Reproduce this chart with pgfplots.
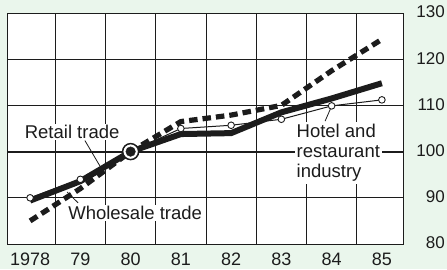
\documentclass[border=0pt]{standalone}
\usepackage{fontspec}
\setmainfont{Liberation Sans}
\usepackage{pgfplots}
\pgfplotsset{compat=1.18}
\definecolor{bg}{RGB}{234,246,236}
\definecolor{ink}{RGB}{28,28,28}
\begin{document}
\begin{tikzpicture}[x=1pt,y=1pt]
\path[use as bounding box, fill=bg] (0,0) rectangle (447,269);
\begin{axis}[
  at={(7pt,25pt)}, anchor=south west,
  scale only axis, width=397pt, height=231pt,
  xmin=-0.46, xmax=7.44, ymin=80, ymax=130,
  xtick={0,...,7}, xticklabels={1978,79,80,81,82,83,84,85},
  ytick={80,90,...,130},
  yticklabel pos=right,
  ymajorgrids,
  extra x ticks={0.5,1.5,2.5,3.5,4.5,5.5,6.5},
  extra x tick labels={},
  extra x tick style={grid=major},
  major tick length=0pt,
  grid style={ink, line width=0.8pt},
  axis line style={ink, line width=1pt},
  axis background/.style={fill=white},
  tick label style={text=ink},
  /pgf/number format/assume math mode=true,
  yticklabel style={font=\fontsize{17}{20}\selectfont, anchor=east, inner sep=0pt, xshift=41pt, yshift=1pt},
  xticklabel style={font=\fontsize{18}{20}\selectfont, anchor=north, inner sep=0pt, yshift=-9pt},
  clip=false,
]
% baseline at 100
\draw[ink, line width=1.8pt] (axis cs:-0.46,100) -- (axis cs:7.44,100);
% Wholesale trade
\addplot[ink, line width=5.2pt, dash pattern=on 8.5pt off 5pt, no marks] coordinates {
(0,85.0) (1,92.0) (2,100) (3,106.5) (4,107.9) (5,110.0) (6,117.5) (7,124.3)};
% Retail trade
\addplot[ink, line width=6pt, no marks, line join=round] coordinates {
(0,89.4) (1,93.6) (2,100) (3,103.8) (4,104.0) (5,108.5) (6,111.5) (7,114.8)};
% Hotel and restaurant industry
\addplot[ink, line width=1pt, mark=*, mark size=3.3pt, mark options={fill=white, draw=ink, line width=0.9pt}] coordinates {
(0,90.0) (1,94.0) (2,100) (3,105.0) (4,105.7) (5,107.0) (6,109.9) (7,111.2)};
% base year marker
\addplot[only marks, mark=*, mark size=8pt, mark options={fill=white, draw=ink, line width=1.5pt}] coordinates {(2,100)};
\addplot[only marks, mark=*, mark size=4.8pt, mark options={fill=ink, draw=ink}] coordinates {(2,100)};
% labels
\node[fill=white, inner sep=1.5pt, text=ink, font=\fontsize{18.5}{20}\selectfont] at (axis cs:0.836,104.2) {Retail trade};
\draw[ink, line width=0.8pt] (axis cs:1.09,102.4) -- (axis cs:1.41,96.5);
\node[fill=white, inner sep=1.5pt, text=ink, font=\fontsize{18.5}{20}\selectfont] at (axis cs:2.09,86.7) {Wholesale trade};
\draw[ink, line width=0.8pt] (axis cs:0.955,88.9) -- (axis cs:0.736,91.25);
\node[fill=white, inner sep=2pt, anchor=west, align=left, text=ink, font=\fontsize{18.5}{20}\selectfont] at (axis cs:5.26,99.7) {Hotel and\\restaurant\\industry};
\draw[ink, line width=0.8pt] (axis cs:5.99,109.6) -- (axis cs:5.87,106.6);
\end{axis}
\end{tikzpicture}
\end{document}
